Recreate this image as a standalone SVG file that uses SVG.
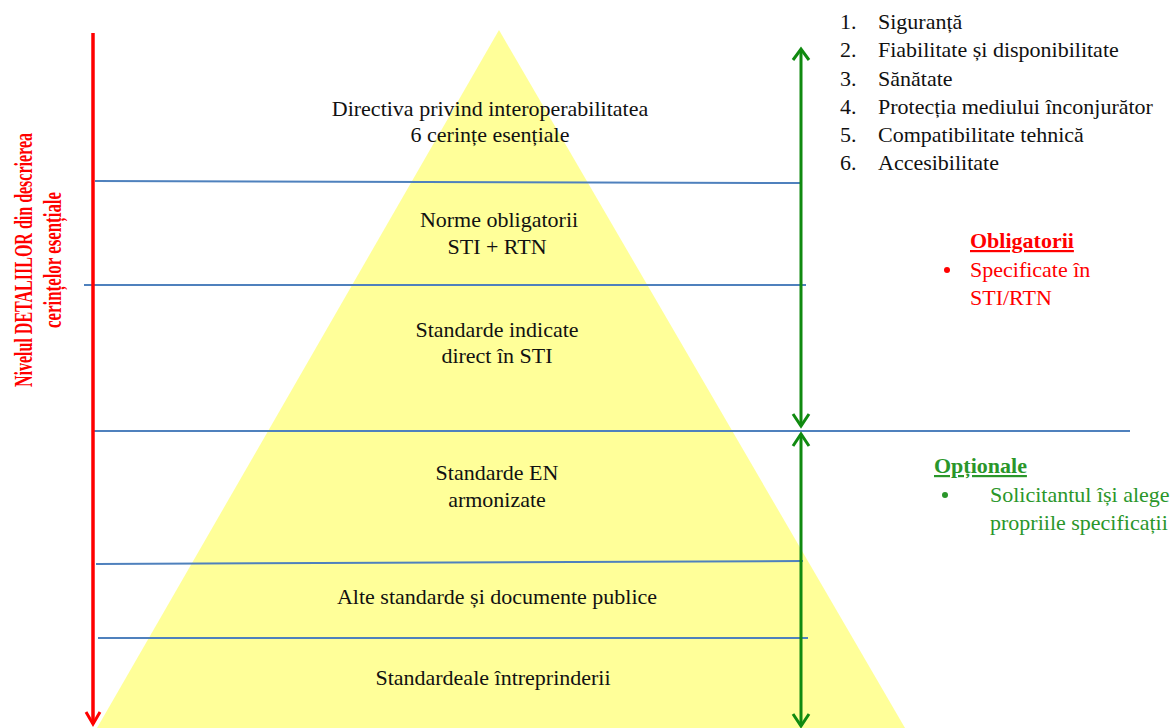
<svg xmlns="http://www.w3.org/2000/svg" width="1170" height="728" viewBox="0 0 1170 728">
<style>
.t{font-family:"Liberation Serif","Times New Roman",serif;font-size:22px;fill:#111}
.c{text-anchor:middle}
.b{stroke:#4F81BD;stroke-width:2;fill:none}
.red{fill:#FF0000}
.grn{fill:#2A962A}
.rot{font-size:25px;font-weight:bold}
</style>
<rect width="1170" height="728" fill="#fff"/>
<g id="pyramid">
<polygon points="499,30 905,728 97,728" fill="#FFFF99"/>
</g>
<g id="connectors">
<line class="b" x1="95" y1="181" x2="802" y2="183"/>
<line class="b" x1="84" y1="285" x2="806" y2="285"/>
<line class="b" x1="92" y1="431" x2="1130" y2="431"/>
<line class="b" x1="96" y1="564" x2="803" y2="561"/>
<line class="b" x1="98" y1="638" x2="808" y2="638"/>
<line x1="93" y1="33" x2="93" y2="724" stroke="#FF0000" stroke-width="3.5"/>
<path d="M86,712 L93,724 L100,712" fill="none" stroke="#FF0000" stroke-width="3"/>
<line x1="801" y1="50" x2="801" y2="426" stroke="#108A10" stroke-width="3"/>
<path d="M793,60 L801,49 L809,60" fill="none" stroke="#108A10" stroke-width="3"/>
<path d="M793,414 L801,426 L809,414" fill="none" stroke="#108A10" stroke-width="3"/>
<line x1="801" y1="434" x2="801" y2="726" stroke="#108A10" stroke-width="3"/>
<path d="M793,446 L801,434 L809,446" fill="none" stroke="#108A10" stroke-width="3"/>
<path d="M793,714 L801,726 L809,714" fill="none" stroke="#108A10" stroke-width="3"/>
</g>
<g id="level1">
<text class="t c" x="490" y="116">Directiva privind interoperabilitatea</text>
<text class="t c" x="490" y="142">6 cerințe esențiale</text>
</g>
<g id="level2">
<text class="t c" x="499" y="227">Norme obligatorii</text>
<text class="t c" x="497" y="254">STI + RTN</text>
</g>
<g id="level3">
<text class="t c" x="497" y="337">Standarde indicate</text>
<text class="t c" x="497" y="363">direct în STI</text>
</g>
<g id="level4">
<text class="t c" x="497" y="480">Standarde EN</text>
<text class="t c" x="497" y="507">armonizate</text>
</g>
<g id="level5">
<text class="t c" x="497" y="604">Alte standarde și documente publice</text>
</g>
<g id="level6">
<text class="t c" x="493" y="685">Standardeale întreprinderii</text>
</g>
<g id="requirements">
<text class="t" x="840" y="29">1.</text><text class="t" x="878" y="29">Siguranță</text>
<text class="t" x="840" y="57">2.</text><text class="t" x="878" y="57">Fiabilitate și disponibilitate</text>
<text class="t" x="840" y="86">3.</text><text class="t" x="878" y="86">Sănătate</text>
<text class="t" x="840" y="114">4.</text><text class="t" x="878" y="114">Protecția mediului înconjurător</text>
<text class="t" x="840" y="142">5.</text><text class="t" x="878" y="142">Compatibilitate tehnică</text>
<text class="t" x="840" y="170">6.</text><text class="t" x="878" y="170">Accesibilitate</text>
</g>
<g id="obligatorii">
<text class="t red" x="970" y="248" font-weight="bold" text-decoration="underline">Obligatorii</text>
<circle cx="947" cy="270" r="3" fill="#FF0000"/>
<text class="t red" x="970" y="277">Specificate în</text>
<text class="t red" x="970" y="305">STI/RTN</text>
</g>
<g id="optionale">
<text class="t grn" x="934" y="473" font-weight="bold" text-decoration="underline">Opționale</text>
<circle cx="945" cy="495" r="3" fill="#2A962A"/>
<text class="t grn" x="990" y="502">Solicitantul își alege</text>
<text class="t grn" x="990" y="530">propriile specificații</text>
</g>
<g id="axis-label">
<text class="t red c rot" transform="translate(32,260) rotate(-90)" textLength="254" lengthAdjust="spacingAndGlyphs">Nivelul DETALIILOR din descrierea</text>
<text class="t red c rot" transform="translate(61,260) rotate(-90)" textLength="136" lengthAdjust="spacingAndGlyphs">cerințelor esențiale</text>
</g>
</svg>
